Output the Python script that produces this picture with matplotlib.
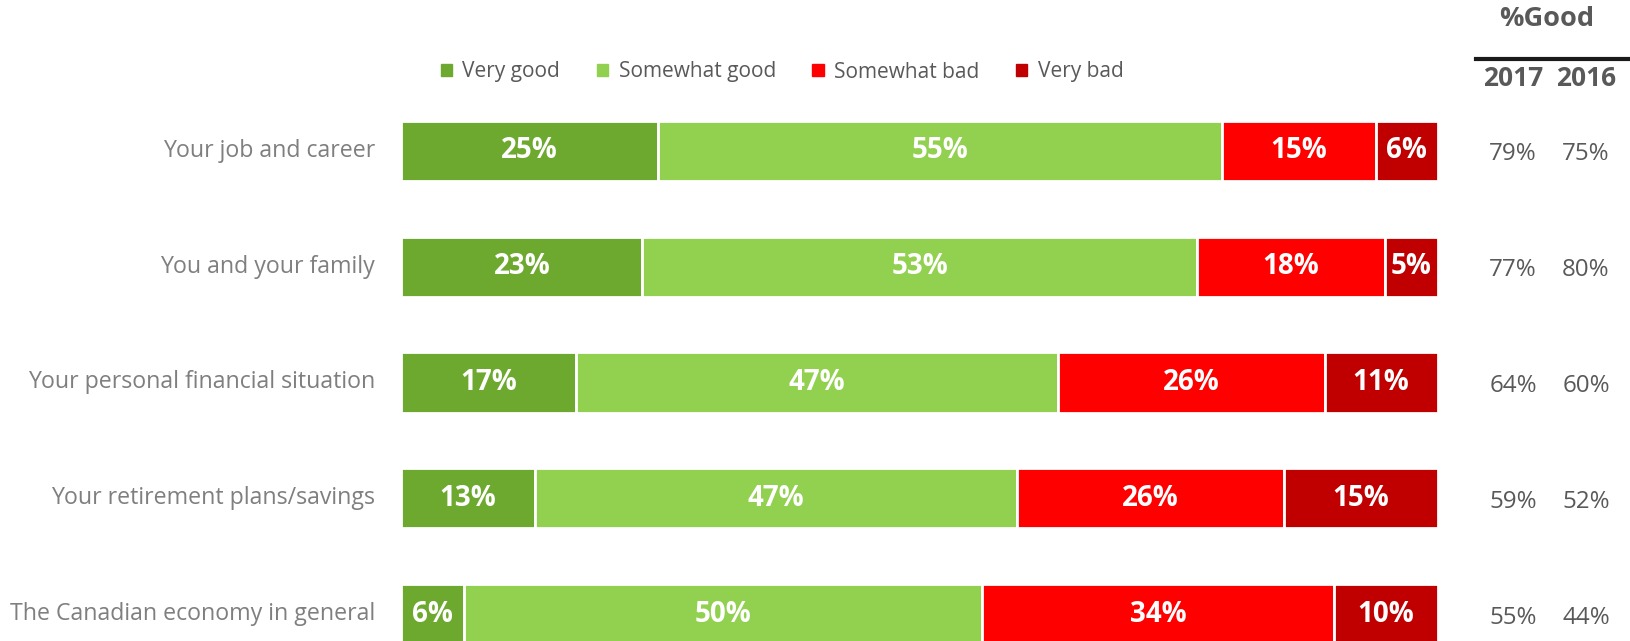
import matplotlib.pyplot as plt
from matplotlib.patches import Patch
from matplotlib.lines import Line2D
import numpy as np

plt.rcParams['font.family'] = ['Open Sans', 'DejaVu Sans']

categories = ['Your job and career', 'You and your family',
              'Your personal financial situation', 'Your retirement plans/savings',
              'The Canadian economy in general']
series = ['Very good', 'Somewhat good', 'Somewhat bad', 'Very bad']
very_good = [25, 23, 17, 13, 6]
somewhat_good = [55, 53, 47, 47, 50]
somewhat_bad = [15, 18, 26, 26, 34]
very_bad = [6, 5, 11, 15, 10]
good_2017 = ['79%', '77%', '64%', '59%', '55%']
good_2016 = ['75%', '80%', '60%', '52%', '44%']
years = ['2017', '2016']

colors = ['#6EA92F', '#92D050', '#FF0000', '#C00000']
grey = '#595959'
light_grey = '#7F7F7F'

W, H = 1631, 641
fig = plt.figure(figsize=(W / 100, H / 100), dpi=100)

# axes placed in pixels: bars span x 401..1437, row 0 centred at y 151, 116 px per row
ax_left, ax_right = 401.5 / W, 1437.6 / W
ax_top = 1 - 93 / H
ax = fig.add_axes([ax_left, 0, ax_right - ax_left, ax_top])

def fx(px):
    # figure pixel x -> axes fraction
    return (px / W - ax_left) / (ax_right - ax_left)

data = np.array([very_good, somewhat_good, somewhat_bad, very_bad], dtype=float)
totals = data.sum(axis=0)
shares = data / totals
y = np.arange(len(categories))
left = np.zeros(len(categories))
for k in range(len(series)):
    ax.barh(y, shares[k], left=left, height=0.52, color=colors[k],
            edgecolor='white', linewidth=2)
    for i in range(len(categories)):
        ax.text(left[i] + shares[k][i] / 2, y[i], f'{int(data[k][i])}%',
                ha='center', va='center', color='white', fontsize=20,
                fontweight='bold')
    left += shares[k]

ax.set_xlim(0, 1)
ax.set_ylim(4 + (H - 614) / 116, -0.5)
ax.axis('off')

for i, cat in enumerate(categories):
    ax.text(fx(375), y[i], cat, ha='right', va='center',
            color=light_grey, fontsize=16.7)
    ax.text(fx(1513), y[i] + 0.03, good_2017[i],
            ha='center', va='center', color=grey, fontsize=17.4)
    ax.text(fx(1586), y[i] + 0.03, good_2016[i],
            ha='center', va='center', color=grey, fontsize=17.4)

fig.text(1547 / W, 1 - 19 / H, '%Good', ha='center', va='center', color=grey,
         fontsize=19.5, fontweight='bold')
fig.text(1513 / W, 1 - 78 / H, years[0], ha='center', va='center', color=grey,
         fontsize=19, fontweight='bold')
fig.text(1586 / W, 1 - 78 / H, years[1], ha='center', va='center', color=grey,
         fontsize=19, fontweight='bold')
fig.add_artist(Line2D([1476 / W, 1.0], [1 - 59 / H, 1 - 59 / H],
                      transform=fig.transFigure, color='#1a1a1a', linewidth=3))

handles = [Patch(color=c, label=s) for c, s in zip(colors, series)]
leg = fig.legend(handles=handles, loc='center', bbox_to_anchor=(782 / W, 1 - 72 / H),
                 ncol=4, frameon=False, fontsize=15, handlelength=0.55,
                 handleheight=0.55, handletextpad=0.5, columnspacing=1.75)
for t in leg.get_texts():
    t.set_color(grey)

fig.savefig('out.png', dpi=100)
